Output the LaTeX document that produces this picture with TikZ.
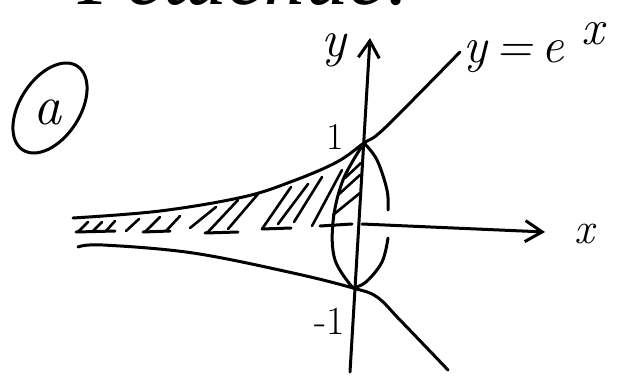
\documentclass[tikz,border=0pt]{standalone}
\usepackage{fontspec}
\newfontfamily\cyrfont{Liberation Serif}
\usetikzlibrary{arrows.meta}
\begin{document}
\begin{tikzpicture}[x=1pt,y=-1pt, line cap=round, line join=round,
  pen/.style={line width=3pt},
  hatch/.style={line width=2.6pt},
  lbl/.style={inner sep=0pt},
  axisarrow/.style={-{Straight Barb[length=17pt,width=21pt]}}]
\useasboundingbox (0,0) rectangle (629,383);
% header (cut off at the top of the picture)
\begin{scope}
\clip (0,0) rectangle (629,383);
\node[lbl, anchor=base west] (head) at (78,4) {\cyrfont\itshape\fontsize{84}{88}\selectfont\raisebox{0pt}[\height][0pt]{Решение:}};
\end{scope}
% circled label
\node[lbl] (alab) at (47,112) {\itshape\fontsize{56}{56}\selectfont a};
\draw[pen, rotate around={57:(50,108)}] (50,108) ellipse [x radius=50pt, y radius=30pt];
% key points
\coordinate (O1) at (364,143);
\coordinate (Om) at (353,288);
\coordinate (yb) at (350,372);
\coordinate (yt) at (370,38);
\coordinate (xl) at (362,224);
\coordinate (xr) at (545,232);
% axes
\draw[pen, axisarrow] (yb) -- (yt);
\draw[pen, axisarrow] (xl) -- (xr);
\foreach \a/\b/\c/\d in {76/232/115/231, 143/232/170/231, 205/233/238/232, 262/229/291/228, 320/226/352/224}
  \draw[pen] (\a,\b) -- (\c,\d);
% curves
\draw[pen] plot[smooth, tension=0.6] coordinates {(73,218) (160,211) (243,197) (293,181) (337,162) (O1) (377,135) (400,113) (460,52)};
\draw[pen] plot[smooth, tension=0.6] coordinates {(78,247) (103,245) (193,253) (293,273) (Om) (377,297) (400,320) (448,370)};
% cross-section
\draw[pen] plot[smooth, tension=0.6] coordinates {(O1) (343,180) (333,222) (335,260) (Om)};
\draw[pen] plot[smooth, tension=0.6] coordinates {(O1) (377,160) (387,190) (388,210)};
\draw[pen] plot[smooth, tension=0.6] coordinates {(388,238) (382,262) (366,282) (Om)};
% hatching
\foreach \a/\b/\c/\d in {78/232/88/222, 93/231/102/222, 106/231/115/221,
  126/231/139/219, 145/232/160/217, 166/231/180/216, 190/228/216/207,
  207/233/238/200, 228/229/258/194, 262/229/291/187, 278/224/308/184,
  294/222/322/177, 312/226/342/170, 333/215/360/193, 338/195/360/175, 345/178/361/163}
  \draw[hatch] (\a,\b) -- (\c,\d);
% labels
\node[lbl, anchor=base] (ylab) at (334,56) {\itshape\fontsize{52}{52}\selectfont y};
\node[lbl] (one) at (335,137) {\fontsize{38}{38}\selectfont 1};
\node[lbl] (mone) at (330,321) {\fontsize{40}{40}\selectfont -1};
\node[lbl] (xlab) at (584,234) {\itshape\fontsize{44}{44}\selectfont x};
\node[lbl, anchor=base west] (flab) at (463,62) {\itshape\fontsize{50}{50}\selectfont y\,=\,e\hspace{18pt}\raisebox{18pt}{x}};
\end{tikzpicture}
\end{document}
